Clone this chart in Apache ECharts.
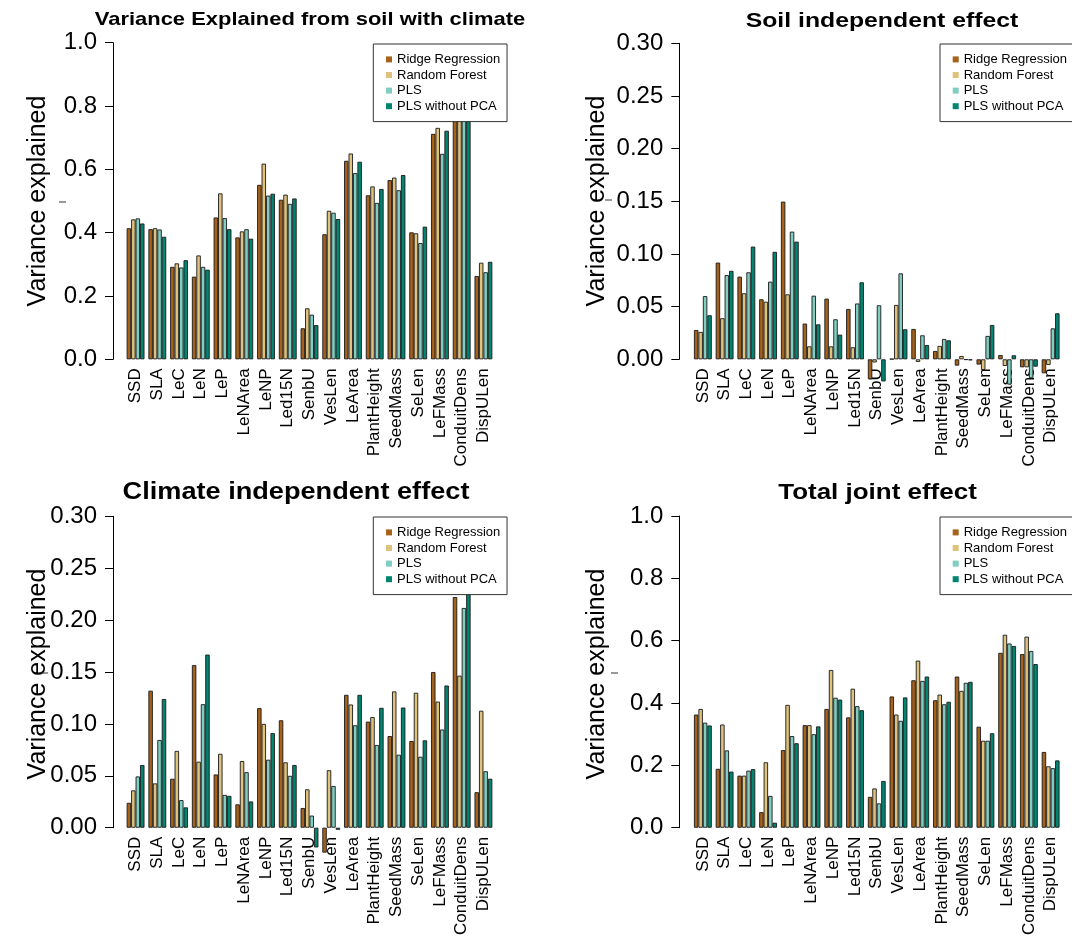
<!DOCTYPE html>
<html>
<head>
<meta charset="utf-8">
<script src="https://cdn.jsdelivr.net/npm/echarts@6/dist/echarts.min.js"></script>
<style>
  html, body { margin: 0; padding: 0; background: #fff; }
  #chart { width: 1072px; height: 938px; }
</style>
</head>
<body>
<div id="chart"></div>
<script>
// ---------------- DATA ----------------
const categories = ['SSD', 'SLA', 'LeC', 'LeN', 'LeP', 'LeNArea', 'LeNP', 'Led15N', 'SenbU', 'VesLen',
  'LeArea', 'PlantHeight', 'SeedMass', 'SeLen', 'LeFMass', 'ConduitDens', 'DispULen'];
const methods = ['Ridge Regression', 'Random Forest', 'PLS', 'PLS without PCA'];
const panelTitles = ['Variance Explained from soil with climate', 'Soil independent effect',
  'Climate independent effect', 'Total joint effect'];
const yTitle = 'Variance explained';

// Panel 1: Variance explained from soil with climate
const soilClimateRidge = [0.414, 0.411, 0.292, 0.261, 0.448, 0.385, 0.551, 0.504, 0.098, 0.395, 0.627, 0.518, 0.566, 0.401, 0.712, 0.80, 0.263];
const soilClimateRF    = [0.442, 0.414, 0.303, 0.328, 0.524, 0.404, 0.618, 0.520, 0.161, 0.469, 0.650, 0.546, 0.574, 0.398, 0.731, 0.79, 0.305];
const soilClimatePLS   = [0.445, 0.410, 0.290, 0.292, 0.446, 0.411, 0.517, 0.491, 0.141, 0.463, 0.588, 0.494, 0.534, 0.367, 0.649, 0.80, 0.275];
const soilClimatePLSw  = [0.429, 0.387, 0.313, 0.283, 0.411, 0.381, 0.523, 0.508, 0.108, 0.443, 0.624, 0.538, 0.582, 0.419, 0.722, 0.81, 0.308];

// Panel 2: Soil independent effect
const soilRidge = [0.0278, 0.0918, 0.0785, 0.0570, 0.1497, 0.0339, 0.0576, 0.0478, -0.0190, 0.0004, 0.0288, 0.0079, -0.0060, -0.0050, 0.0041, -0.0076, -0.0133];
const soilRF    = [0.0260, 0.0390, 0.0627, 0.0547, 0.0617, 0.0123, 0.0123, 0.0114, -0.0030, 0.0516, -0.0025, 0.0127, 0.0032, -0.0101, -0.0063, -0.0076, -0.0054];
const soilPLS   = [0.0600, 0.0800, 0.0826, 0.0737, 0.1212, 0.0604, 0.0380, 0.0530, 0.0513, 0.0816, 0.0228, 0.0193, -0.0005, 0.0222, -0.0240, -0.0180, 0.0294];
const soilPLSw  = [0.0418, 0.0840, 0.1070, 0.1020, 0.1117, 0.0332, 0.0234, 0.0731, -0.0210, 0.0285, 0.0136, 0.0180, -0.0010, 0.0326, 0.0038, -0.0070, 0.0437];

// Panel 3: Climate independent effect
const climRidge = [0.0240, 0.1320, 0.0472, 0.1566, 0.0513, 0.0225, 0.1152, 0.1035, 0.0190, -0.0240, 0.1280, 0.1022, 0.0883, 0.0835, 0.1500, 0.2222, 0.0342];
const climRF    = [0.0360, 0.0427, 0.0740, 0.0636, 0.0712, 0.0642, 0.1000, 0.0630, 0.0370, 0.0554, 0.1187, 0.1066, 0.1313, 0.1300, 0.1215, 0.1465, 0.1127];
const climPLS   = [0.0494, 0.0845, 0.0266, 0.1190, 0.0316, 0.0535, 0.0655, 0.0500, 0.0117, 0.0402, 0.0987, 0.0797, 0.0703, 0.0684, 0.0946, 0.2117, 0.0544];
const climPLSw  = [0.0604, 0.1240, 0.0196, 0.1668, 0.0307, 0.0253, 0.0911, 0.0604, -0.0190, -0.0020, 0.1280, 0.1155, 0.1158, 0.0842, 0.1370, 0.2350, 0.0472];

// Panel 4: Total joint effect
const jointRidge = [0.363, 0.189, 0.167, 0.050, 0.249, 0.329, 0.381, 0.354, 0.099, 0.421, 0.473, 0.409, 0.485, 0.324, 0.561, 0.557, 0.243];
const jointRF    = [0.381, 0.331, 0.167, 0.210, 0.394, 0.329, 0.506, 0.446, 0.126, 0.363, 0.536, 0.427, 0.439, 0.279, 0.619, 0.613, 0.197];
const jointPLS   = [0.337, 0.248, 0.183, 0.102, 0.294, 0.300, 0.417, 0.390, 0.078, 0.343, 0.471, 0.396, 0.465, 0.279, 0.591, 0.567, 0.191];
const jointPLSw  = [0.328, 0.180, 0.188, 0.016, 0.271, 0.325, 0.411, 0.377, 0.150, 0.418, 0.485, 0.404, 0.468, 0.303, 0.583, 0.525, 0.216];

const panelData = [
  [soilClimateRidge, soilClimateRF, soilClimatePLS, soilClimatePLSw],
  [soilRidge, soilRF, soilPLS, soilPLSw],
  [climRidge, climRF, climPLS, climPLSw],
  [jointRidge, jointRF, jointPLS, jointPLSw]
];
const yMax = [1.0, 0.30, 0.30, 1.0];
const yInterval = [0.2, 0.05, 0.05, 0.2];
const yDecimals = [1, 2, 2, 1];

// ---------------- STYLE / LAYOUT ----------------
const colors = ['#A6611A', '#DFC27D', '#80CDC1', '#018571'];
const FONT = '"Liberation Sans", Arial, Helvetica, sans-serif';

const grids = [
  { left: 124.7, top: 42.7, width: 369.6, height: 316.6 },
  { left: 692.0, top: 43.3, width: 369.5, height: 316.0 },
  { left: 124.7, top: 516.3, width: 369.6, height: 316.0 },
  { left: 692.0, top: 516.0, width: 369.5, height: 316.0 }
];
const yOffsets = [11.7, 12.7, 11.7, 12.7];
const legendPos = [
  { left: 373.3, top: 44 },
  { left: 940, top: 44 },
  { left: 373.3, top: 517 },
  { left: 940, top: 517 }
];
const titlePos = [
  { x: 310, y: 20, size: 18.6 },
  { x: 882, y: 21, size: 21 },
  { x: 296, y: 493, size: 23 },
  { x: 877.5, y: 493, size: 22 }
];
const yTitlePos = [
  { x: 38, y: 201 },
  { x: 597, y: 201 },
  { x: 38, y: 674 },
  { x: 597, y: 674 }
];
const dashMarks = [
  { x: 59, y: 202 },
  { x: 605, y: 200 },
  { x: 41, y: 673 },
  { x: 611, y: 673 }
];

const xAxes = [], yAxes = [], series = [], legends = [], graphics = [];

for (let p = 0; p < 4; p++) {
  xAxes.push({
    type: 'category',
    gridIndex: p,
    data: categories,
    axisLine: { show: false },
    axisTick: { show: false },
    axisLabel: {
      rotate: 90, interval: 0, fontSize: 17, color: '#000', margin: 9, fontFamily: FONT
    },
    splitLine: { show: false }
  });
  const dec = yDecimals[p];
  yAxes.push({
    type: 'value',
    gridIndex: p,
    min: 0,
    max: yMax[p],
    interval: yInterval[p],
    offset: yOffsets[p],
    axisLine: { show: true, lineStyle: { color: '#000', width: 1 } },
    axisTick: { show: true, length: 8, lineStyle: { color: '#000', width: 1 } },
    axisLabel: {
      fontSize: 24, color: '#000', margin: 16, fontFamily: FONT,
      formatter: v => v.toFixed(dec)
    },
    splitLine: { show: false }
  });
  for (let s = 0; s < 4; s++) {
    series.push({
      type: 'bar',
      name: methods[s],
      xAxisIndex: p,
      yAxisIndex: p,
      data: panelData[p][s],
      barGap: '0%',
      barCategoryGap: '18%',
      clip: false,
      itemStyle: { color: colors[s], borderColor: '#1a1a1a', borderWidth: 0.9 },
      emphasis: { disabled: true },
      animation: false
    });
  }
  legends.push({
    left: legendPos[p].left,
    top: legendPos[p].top,
    orient: 'vertical',
    data: methods,
    icon: 'rect',
    itemWidth: 6,
    itemHeight: 6,
    itemGap: 0,
    padding: [7.6, 6.7, 7.6, 12.7],
    backgroundColor: '#fff',
    borderColor: '#333',
    borderWidth: 1,
    borderRadius: 0,
    selectedMode: false,
    itemStyle: { borderWidth: 0 },
    textStyle: { fontSize: 13, lineHeight: 15.6, color: '#000', fontFamily: FONT }
  });
  graphics.push({
    type: 'text',
    x: titlePos[p].x,
    y: titlePos[p].y,
    scaleX: 1.18,
    silent: true,
    style: {
      text: panelTitles[p],
      fontSize: titlePos[p].size,
      fontWeight: 'bold',
      fontFamily: FONT,
      fill: '#000',
      align: 'center', textAlign: 'center',
      verticalAlign: 'middle', textVerticalAlign: 'middle'
    }
  });
  graphics.push({
    type: 'text',
    x: yTitlePos[p].x,
    y: yTitlePos[p].y,
    rotation: Math.PI / 2,
    silent: true,
    style: {
      text: yTitle,
      fontSize: 25,
      fontFamily: FONT,
      fill: '#000',
      align: 'center', textAlign: 'center',
      verticalAlign: 'middle', textVerticalAlign: 'middle'
    }
  });
  graphics.push({
    type: 'line',
    silent: true,
    shape: { x1: dashMarks[p].x, y1: dashMarks[p].y, x2: dashMarks[p].x + 7, y2: dashMarks[p].y },
    style: { stroke: '#333', lineWidth: 1 }
  });
}

const chart = echarts.init(document.getElementById('chart'), null, { renderer: 'canvas' });
chart.setOption({
  backgroundColor: '#fff',
  animation: false,
  textStyle: { fontFamily: FONT },
  grid: grids,
  xAxis: xAxes,
  yAxis: yAxes,
  legend: legends,
  series: series,
  graphic: graphics
});
</script>
</body>
</html>
